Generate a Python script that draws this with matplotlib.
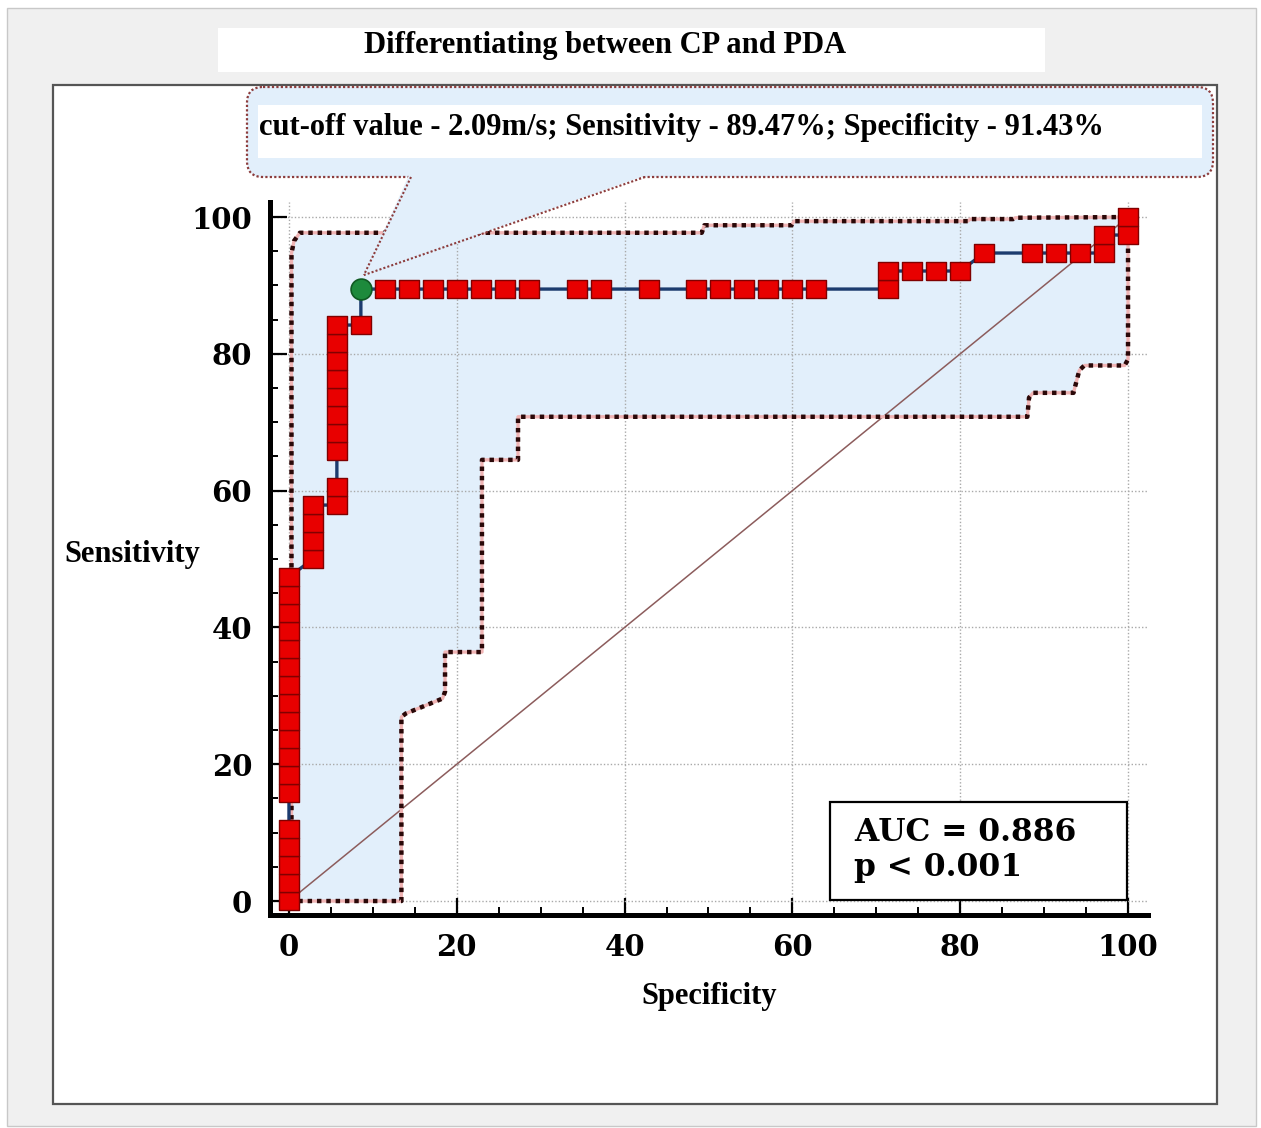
"""
ROC curve for velocity cut-off differentiating CP from PDA,
with confidence band, optimal cut-off point and AUC box.
"""

import matplotlib

matplotlib.use("Agg")
import matplotlib.pyplot as plt
from matplotlib.patches import FancyBboxPatch, Polygon, Rectangle
from matplotlib.ticker import MultipleLocator

# ROC points (100 - specificity, sensitivity), in percent
roc_x = [0, 0, 0, 0, 0, 0, 0, 0, 0, 0, 0, 0, 0, 0, 0, 0, 0, 0,
         2.86, 2.86, 2.86, 2.86,
         5.71, 5.71, 5.71, 5.71, 5.71, 5.71, 5.71, 5.71, 5.71, 5.71,
         8.57, 8.57,
         11.43, 14.29, 17.14, 20.00, 22.86, 25.71, 28.57, 34.29, 37.14,
         42.86, 48.57, 51.43, 54.29, 57.14, 60.00, 62.86,
         71.43, 71.43, 74.29, 77.14, 80.00, 82.86, 88.57, 91.43, 94.29,
         97.14, 97.14, 100.00, 100.00]
roc_y = [0, 2.63, 5.26, 7.89, 10.53, 15.79, 18.42, 21.05, 23.68, 26.32,
         28.95, 31.58, 34.21, 36.84, 39.47, 42.11, 44.74, 47.37,
         50.00, 52.63, 55.26, 57.89,
         57.89, 60.53, 65.79, 68.42, 71.05, 73.68, 76.32, 78.95, 81.58, 84.21,
         84.21, 89.47,
         89.47, 89.47, 89.47, 89.47, 89.47, 89.47, 89.47, 89.47, 89.47,
         89.47, 89.47, 89.47, 89.47, 89.47, 89.47, 89.47,
         89.47, 92.11, 92.11, 92.11, 92.11, 94.74, 94.74, 94.74, 94.74,
         94.74, 97.37, 97.37, 100.00]

# optimal criterion
cutoff_x = 8.57
cutoff_y = 89.47

# 95% confidence band of the curve
upper_x = [0, 0.3, 0.3, 0.6, 1.3, 49.2, 49.5, 59.9, 60.2, 80.9, 81.2, 86.3,
           86.6, 100.0]
upper_y = [0, 0, 94.7, 96.5, 97.7, 97.7, 98.8, 98.8, 99.4, 99.4, 99.7, 99.7,
           99.9, 100.0]
lower_x = [0, 13.4, 13.4, 13.9, 18.3, 18.6, 18.6, 23.0, 23.0, 27.3, 27.3,
           88.0, 88.2, 88.7, 93.5, 94.2, 94.8, 99.6, 100.0, 100.0]
lower_y = [0, 0, 26.9, 27.4, 29.6, 30.6, 36.4, 36.4, 64.5, 64.5, 70.8,
           70.8, 73.6, 74.3, 74.3, 77.6, 78.3, 78.3, 79.2, 100.0]

chance = [0, 100]
tick_values = [0, 20, 40, 60, 80, 100]

auc_text = "AUC = 0.886\np < 0.001"
title_text = "Differentiating between CP and PDA"
cutoff_text = "cut-off value - 2.09m/s; Sensitivity - 89.47%; Specificity - 91.43%"

W, H = 1261, 1128
SERIF = ["Liberation Serif", "DejaVu Serif"]
NUM = ["DejaVu Serif"]

fig = plt.figure(figsize=(W / 100, H / 100), dpi=100)
fig.patch.set_facecolor("white")

# window frame, title strip and white panel (pixel canvas)
bg = fig.add_axes([0, 0, 1, 1], zorder=0)
bg.set_xlim(0, W)
bg.set_ylim(H, 0)
bg.axis("off")
bg.add_patch(Rectangle((7, 8), 1249, 1118, fc="#f0f0f0", ec="#c8c8c8", lw=1))
bg.add_patch(Rectangle((218, 28), 827, 44, fc="white", ec="none"))
bg.add_patch(Rectangle((53, 85), 1164, 1019, fc="white", ec="#555555", lw=1.6))
bg.text(605, 46, title_text, ha="center", va="center", fontsize=22,
        fontweight="bold", family=SERIF)

# main plot
ax = fig.add_axes([269.5 / W, 1 - 914.5 / H, 878.5 / W, 712.5 / H], zorder=1)
ax.set_xlim(-2.32, 102.38)
ax.set_ylim(-1.97, 102.2)
for side in ("top", "right"):
    ax.spines[side].set_visible(False)
for side in ("left", "bottom"):
    ax.spines[side].set_linewidth(3.6)
    ax.spines[side].set_color("black")

ax.set_xticks(tick_values)
ax.set_yticks(tick_values)
ax.xaxis.set_minor_locator(MultipleLocator(5))
ax.yaxis.set_minor_locator(MultipleLocator(5))
ax.tick_params(which="major", direction="in", length=12, width=1.6,
               color="black")
ax.tick_params(which="minor", direction="in", length=6, width=1.4,
               color="black")
ax.tick_params(axis="y", which="major", pad=12.5)
ax.tick_params(axis="x", which="major", pad=13.5)
for lab in ax.get_xticklabels() + ax.get_yticklabels():
    lab.set_fontfamily(NUM)
    lab.set_fontweight("bold")
    lab.set_fontsize(21)

ax.grid(True, which="major", color="#a9a9a9", lw=1.0, linestyle=(0, (1, 1.5)))

# confidence band
band_x = upper_x + lower_x[::-1]
band_y = upper_y + lower_y[::-1]
ax.fill(band_x, band_y, color="#e2effb", lw=0, zorder=1)
for bx, by in ((upper_x, upper_y), (lower_x, lower_y)):
    ax.plot(bx, by, color="#f0b4b4", lw=2.4, zorder=2.4, solid_capstyle="butt")
    ax.plot(bx, by, color="#2a0808", lw=3.2, linestyle=(0, (1, 1.1)),
            dash_capstyle="butt", zorder=2.5)

# chance line
ax.plot(chance, chance, color="#8c5c5c", lw=1.1, zorder=2)

# ROC curve
box_marker = [(-1, -0.85), (1, -0.85), (1, 0.85), (-1, 0.85), (-1, -0.85)]
ax.plot(roc_x, roc_y, color="#1c3b6e", lw=2.4, zorder=3)
pts = [(x, y) for x, y in zip(roc_x, roc_y) if (x, y) != (cutoff_x, cutoff_y)]
ax.plot([p[0] for p in pts], [p[1] for p in pts], linestyle="none",
        marker=box_marker, ms=14.5, mfc="#e80000", mec="#800000", mew=1.0,
        zorder=4)
ax.plot([cutoff_x], [cutoff_y], linestyle="none", marker="o", ms=15,
        mfc="#1d8a3c", mec="#0f5a22", mew=1.2, zorder=5)

ax.set_xlabel("Specificity", fontsize=22, fontweight="bold", family=SERIF,
              va="center")
ax.set_ylabel("Sensitivity", fontsize=22, fontweight="bold", family=SERIF,
              rotation=0, ha="center", va="center")
ax.xaxis.set_label_coords(0.5003, -0.1144)
ax.yaxis.set_label_coords(-0.1565, 0.5046)

# overlay: cut-off callout and AUC box (pixel canvas)
top = fig.add_axes([0, 0, 1, 1], zorder=3)
top.set_xlim(0, W)
top.set_ylim(H, 0)
top.axis("off")
top.patch.set_alpha(0)

tip_disp = ax.transData.transform((cutoff_x, cutoff_y))
tip = top.transData.inverted().transform(tip_disp) + [3, -14]

callout_fc = "#e2effb"
callout_ec = "#8c3c3c"
top.add_patch(FancyBboxPatch((247, 87), 966, 90,
                             boxstyle="round,pad=0,rounding_size=16",
                             fc=callout_fc, ec=callout_ec, lw=1.6,
                             linestyle=(0, (1, 1))))
top.add_patch(Rectangle((258, 105), 944, 53, fc="white", ec="none"))
top.add_patch(Polygon([(409, 175), (647, 175), tuple(tip)], closed=True,
                      fc=callout_fc, ec="none"))
for bx in (411, 645):
    top.plot([bx, tip[0]], [177, tip[1]], color=callout_ec, lw=1.5,
             linestyle=(0, (1, 1)))
top.text(259, 127, cutoff_text, ha="left", va="center", fontsize=22,
         fontweight="bold", family=SERIF)

top.add_patch(Rectangle((830, 802), 297, 98, fc="white", ec="black", lw=1.6))
top.text(854, 850, auc_text, ha="left", va="center", fontsize=22.5,
         fontweight="bold", family=NUM, linespacing=1.15)

fig.savefig("out.png", dpi=100)
